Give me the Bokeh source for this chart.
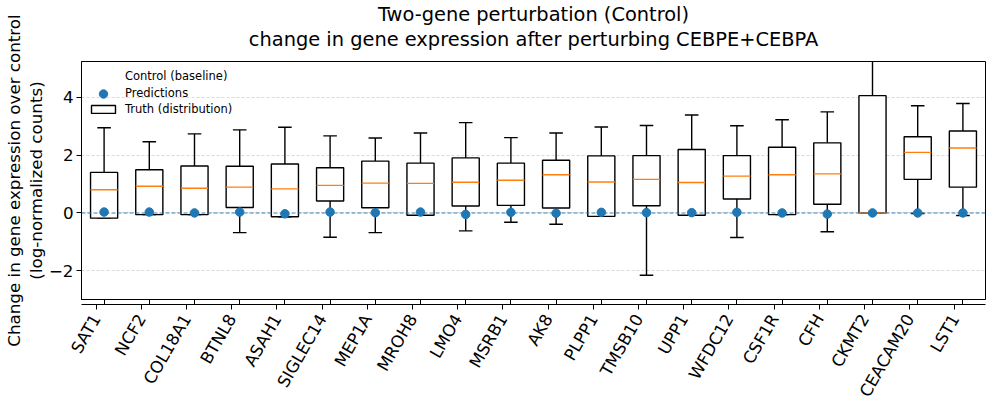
import numpy as np
from bokeh.plotting import figure
from bokeh.models import (Range1d, FixedTicker, Span, Legend, LegendItem, ColumnDataSource,
                          Title, LinearAxis, CustomLabelingPolicy)
from bokeh.embed import file_html
from bokeh.resources import INLINE

genes = ["SAT1", "NCF2", "COL18A1", "BTNL8", "ASAH1", "SIGLEC14", "MEP1A", "MROH8",
         "LMO4", "MSRB1", "AK8", "PLPP1", "TMSB10", "UPP1", "WFDC12", "CSF1R", "CFH",
         "CKMT2", "CEACAM20", "LST1"]
whisker_low = [-0.18, -0.06, -0.06, -0.68, -0.13, -0.84, -0.68, -0.08, -0.62, -0.32,
               -0.39, -0.12, -2.15, -0.08, -0.85, -0.06, -0.65, 0.0, -0.02, -0.09]
q1 = [-0.18, -0.06, -0.06, 0.19, -0.13, 0.41, 0.18, -0.08, 0.24, 0.26,
      0.17, -0.12, 0.25, -0.08, 0.48, -0.06, 0.30, 0.0, 1.16, 0.89]
median = [0.80, 0.92, 0.85, 0.89, 0.83, 0.95, 1.03, 1.02, 1.06, 1.13,
          1.32, 1.07, 1.16, 1.05, 1.27, 1.32, 1.35, 0.0, 2.09, 2.24]
q3 = [1.40, 1.49, 1.62, 1.61, 1.69, 1.56, 1.79, 1.72, 1.90, 1.72,
      1.82, 1.97, 1.98, 2.19, 1.98, 2.27, 2.42, 4.05, 2.63, 2.83]
whisker_high = [2.94, 2.46, 2.73, 2.87, 2.96, 2.66, 2.59, 2.76, 3.12, 2.60,
                2.76, 2.97, 3.02, 3.38, 3.01, 3.22, 3.49, 6.8, 3.70, 3.78]
predictions = [0.03, 0.03, 0.0, 0.03, -0.03, 0.03, 0.01, 0.03, -0.05, 0.02,
               -0.01, 0.02, 0.01, 0.01, 0.02, 0.0, -0.04, 0.0, 0.0, 0.0]
baseline = 0.0
y_ticks = [-2, 0, 2, 4]
title_lines = ["Two-gene perturbation (Control)",
               "change in gene expression after perturbing CEBPE+CEBPA"]
y_label = "Change in gene expression over control\n(log-normalized counts)"

FONT = "DejaVu Sans"
BLUE = "#1f77b4"
ORANGE = "#ff7f0e"
BOX_W = 0.6
CAP_W = 0.3
FRAME_W = 904
FRAME_H = 238
TICK_FS = "16.7px"
LABEL_SHIFT = 0.177  # gene labels end slightly left of their tick (x units)

pos = np.arange(1, len(genes) + 1)
src = ColumnDataSource(dict(
    x=pos, lo=whisker_low, q1=q1, med=median, q3=q3, hi=whisker_high, pred=predictions,
    bx0=pos - BOX_W / 2, bx1=pos + BOX_W / 2, cx0=pos - CAP_W / 2, cx1=pos + CAP_W / 2,
))

x_lo, x_hi = 0.5, len(genes) + 0.5
p = figure(frame_width=FRAME_W, frame_height=FRAME_H, output_backend="svg",
           toolbar_location=None, title=None,
           x_range=Range1d(x_lo, x_hi), y_range=Range1d(-2.99, 5.23),
           min_border_left=75, min_border_right=1, min_border_top=61, min_border_bottom=0)

t2 = Title(text=title_lines[1], align="center", text_font=FONT, text_font_style="normal",
           text_font_size="19.4px", text_color="black", standoff=22)
t1 = Title(text=title_lines[0], align="center", text_font=FONT, text_font_style="normal",
           text_font_size="19.4px", text_color="black", standoff=-23)
p.add_layout(t2, "above")
p.add_layout(t1, "above")

# grid
p.xgrid.visible = False
p.ygrid.ticker = FixedTicker(ticks=y_ticks)
p.ygrid.grid_line_color = "#b0b0b0"
p.ygrid.grid_line_alpha = 0.6
p.ygrid.grid_line_dash = "3 2"
p.ygrid.grid_line_width = 0.8

# axes: tick axis (labels suppressed) + label axis with rotated gene names
p.xaxis.ticker = FixedTicker(ticks=list(pos))
p.xaxis.major_label_text_font_size = "0px"
p.xaxis.major_label_standoff = 0
p.xaxis.major_label_policy = CustomLabelingPolicy(code="""
const n = indices.size;
for (let i = 0; i < n; i++) { indices.unset(i); }
return indices;
""")
p.extra_x_ranges = {"lab": Range1d(x_lo + LABEL_SHIFT, x_hi + LABEL_SHIFT)}
lab_axis = LinearAxis(x_range_name="lab", ticker=FixedTicker(ticks=list(pos)),
                      major_label_overrides={int(i): g for i, g in zip(pos, genes)},
                      major_label_orientation=np.pi / 3, major_label_standoff=6,
                      major_tick_out=0, major_tick_in=0, axis_line_color=None,
                      major_tick_line_color=None, minor_tick_line_color=None,
                      major_label_text_font=FONT, major_label_text_font_size=TICK_FS,
                      major_label_text_color="black")
p.add_layout(lab_axis, "below")

p.yaxis.ticker = FixedTicker(ticks=y_ticks)
p.yaxis.major_label_overrides = {t: (str(t) if t >= 0 else "\u2212" + str(-t)) for t in y_ticks}
p.yaxis.major_label_text_font = FONT
p.yaxis.major_label_text_font_size = TICK_FS
p.yaxis.major_label_text_color = "black"
for ax in (p.xaxis, p.yaxis):
    ax.axis_line_color = "black"
    ax.major_tick_line_color = "black"
    ax.minor_tick_line_color = None
    ax.major_tick_out = 5
    ax.major_tick_in = 0
p.yaxis.major_label_standoff = 3
p.yaxis.axis_label_standoff = 0
p.yaxis.axis_label_text_line_height = 1.1
p.yaxis.axis_label = y_label
p.yaxis.axis_label_text_font = FONT
p.yaxis.axis_label_text_font_style = "normal"
p.yaxis.axis_label_text_font_size = "16.7px"
p.yaxis.axis_label_text_color = "black"
p.outline_line_color = "black"
p.outline_line_width = 1

LW = 1.4
p.segment(x0="x", y0="q3", x1="x", y1="hi", source=src, line_color="black", line_width=LW)
p.segment(x0="x", y0="q1", x1="x", y1="lo", source=src, line_color="black", line_width=LW)
p.segment(x0="cx0", y0="hi", x1="cx1", y1="hi", source=src, line_color="black", line_width=LW)
p.segment(x0="cx0", y0="lo", x1="cx1", y1="lo", source=src, line_color="black", line_width=LW)
boxes = p.vbar(x="x", width=BOX_W, bottom="q1", top="q3", source=src,
               fill_color="white", line_color="black", line_width=LW)
p.segment(x0="bx0", y0="med", x1="bx1", y1="med", source=src, line_color=ORANGE, line_width=LW)

p.add_layout(Span(location=baseline, dimension="width", line_color=BLUE,
                  line_dash="4 2", line_width=1.1, line_alpha=0.9))
ctrl = p.line(x=[], y=[], line_color=BLUE, line_dash="4 2", line_width=1.1, line_alpha=0.9)

preds = p.scatter(x="x", y="pred", source=src, size=8.5, marker="circle",
                  fill_color=BLUE, line_color=BLUE)


def make_legend(label, renderer, row_center, gw, gh, x, standoff):
    lg = Legend(items=[LegendItem(label=label, renderers=[renderer])],
                location=(x, FRAME_H - row_center - gh / 2))
    lg.border_line_alpha = 0
    lg.background_fill_alpha = 0
    lg.padding = 0
    lg.spacing = 0
    lg.margin = 0
    lg.label_text_font = FONT
    lg.label_text_font_size = "11.5px"
    lg.label_text_color = "black"
    lg.label_height = gh
    lg.glyph_height = gh
    lg.glyph_width = gw
    lg.label_standoff = standoff
    p.add_layout(lg)


make_legend("Control (baseline)", ctrl, 15.0, 24, 14, 10, 10)
make_legend("Predictions", preds, 32.3, 24, 21, 10, 10)
make_legend("Truth (distribution)", boxes, 49.7, 30, 10, 7, 7)

open("out.html", "w").write(file_html(p, INLINE))
